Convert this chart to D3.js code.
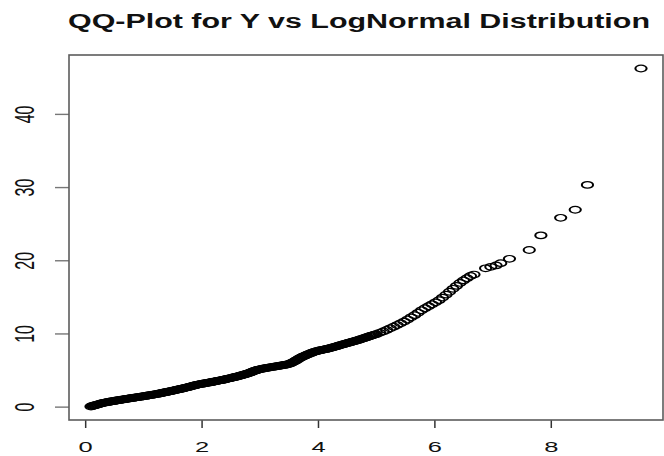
<!DOCTYPE html>
<html>
<head>
<meta charset="utf-8">
<script src="https://cdn.jsdelivr.net/npm/d3@7"></script>
<style>
  html, body { margin: 0; padding: 0; background: #fff; }
  svg { display: block; }
</style>
</head>
<body>
<svg id="chart" width="664" height="456"></svg>
<script>
// Theoretical LogNormal quantiles (x) and sorted sample of Y (y)
const theoretical = [
  0.10, 0.12, 0.14, 0.16, 0.18, 0.20, 0.22, 0.24, 0.26, 0.28, 0.30, 0.32, 0.34, 0.36, 0.38, 0.40,
  0.42, 0.44, 0.46, 0.48, 0.50, 0.52, 0.54, 0.56, 0.58, 0.60, 0.62, 0.64, 0.66, 0.68, 0.70, 0.72,
  0.74, 0.76, 0.78, 0.80, 0.82, 0.84, 0.86, 0.88, 0.90, 0.92, 0.94, 0.96, 0.98, 1.00, 1.02, 1.04,
  1.06, 1.08, 1.10, 1.12, 1.14, 1.16, 1.18, 1.20, 1.22, 1.24, 1.26, 1.28, 1.30, 1.32, 1.34, 1.36,
  1.38, 1.40, 1.42, 1.44, 1.46, 1.48, 1.50, 1.52, 1.54, 1.56, 1.58, 1.60, 1.62, 1.64, 1.66, 1.68,
  1.70, 1.72, 1.74, 1.76, 1.78, 1.80, 1.82, 1.84, 1.86, 1.88, 1.90, 1.92, 1.94, 1.96, 1.98, 2.00,
  2.02, 2.04, 2.06, 2.08, 2.10, 2.12, 2.14, 2.16, 2.18, 2.20, 2.22, 2.24, 2.26, 2.28, 2.30, 2.32,
  2.34, 2.36, 2.38, 2.40, 2.42, 2.44, 2.46, 2.48, 2.50, 2.52, 2.54, 2.56, 2.58, 2.60, 2.62, 2.64,
  2.66, 2.68, 2.70, 2.72, 2.74, 2.76, 2.78, 2.80, 2.82, 2.84, 2.86, 2.88, 2.90, 2.92, 2.94, 2.96,
  2.98, 3.00,
  3.025, 3.05, 3.075, 3.10, 3.125, 3.15, 3.175, 3.20, 3.225, 3.25, 3.275, 3.30, 3.325, 3.35, 3.375, 3.40,
  3.425, 3.45, 3.475, 3.50, 3.525, 3.55, 3.575, 3.60, 3.625, 3.65, 3.675, 3.70, 3.725, 3.75, 3.775, 3.80,
  3.825, 3.85, 3.875, 3.90, 3.925, 3.95, 3.975, 4.00, 4.025, 4.05, 4.075, 4.10, 4.125, 4.15, 4.175, 4.20,
  4.225, 4.25, 4.275, 4.30, 4.325, 4.35, 4.375, 4.40, 4.425, 4.45, 4.475, 4.50, 4.525, 4.55, 4.575, 4.60,
  4.625, 4.65, 4.675, 4.70, 4.725, 4.75, 4.775, 4.80, 4.825, 4.85, 4.875, 4.90, 4.925, 4.95, 4.975, 5.00,
  5.06, 5.12, 5.18, 5.24, 5.30, 5.36, 5.42, 5.48, 5.54, 5.60, 5.66, 5.72, 5.78, 5.84,
  5.90, 5.96, 6.02, 6.08, 6.14, 6.20, 6.26, 6.32, 6.38, 6.44, 6.50, 6.56, 6.62, 6.68,
  6.88, 6.97, 7.06, 7.14, 7.29, 7.63, 7.83, 8.17, 8.42, 8.63, 9.55
];
const sample = [
  0.02, 0.07, 0.12, 0.17, 0.21, 0.25, 0.30, 0.35, 0.40, 0.45, 0.49, 0.52, 0.55, 0.58, 0.62, 0.65,
  0.67, 0.70, 0.73, 0.75, 0.78, 0.81, 0.84, 0.86, 0.89, 0.92, 0.94, 0.97, 0.99, 1.02, 1.04, 1.07,
  1.09, 1.12, 1.15, 1.17, 1.19, 1.22, 1.24, 1.27, 1.29, 1.31, 1.34, 1.36, 1.39, 1.41, 1.44, 1.47,
  1.50, 1.52, 1.55, 1.58, 1.60, 1.63, 1.65, 1.68, 1.71, 1.74, 1.77, 1.80, 1.83, 1.86, 1.90, 1.93,
  1.97, 2.00, 2.03, 2.06, 2.10, 2.13, 2.17, 2.20, 2.24, 2.28, 2.31, 2.35, 2.39, 2.42, 2.46, 2.49,
  2.53, 2.57, 2.61, 2.65, 2.69, 2.73, 2.77, 2.82, 2.86, 2.90, 2.94, 2.98, 3.02, 3.05, 3.08, 3.11,
  3.14, 3.17, 3.19, 3.22, 3.25, 3.28, 3.31, 3.34, 3.37, 3.40, 3.43, 3.46, 3.50, 3.53, 3.56, 3.59,
  3.62, 3.65, 3.69, 3.72, 3.76, 3.80, 3.83, 3.87, 3.90, 3.94, 3.98, 4.02, 4.06, 4.10, 4.14, 4.18,
  4.22, 4.27, 4.31, 4.36, 4.40, 4.45, 4.50, 4.55, 4.61, 4.67, 4.73, 4.80, 4.86, 4.92, 4.97, 5.02,
  5.06, 5.10,
  5.14, 5.18, 5.22, 5.26, 5.30, 5.33, 5.37, 5.40, 5.43, 5.46, 5.50, 5.53, 5.56, 5.60, 5.63, 5.66,
  5.70, 5.74, 5.78, 5.82, 5.90, 5.98, 6.09, 6.20, 6.32, 6.45, 6.57, 6.68, 6.78, 6.87, 6.96, 7.05,
  7.14, 7.22, 7.30, 7.38, 7.45, 7.52, 7.57, 7.62, 7.67, 7.72, 7.76, 7.80, 7.85, 7.89, 7.93, 7.98,
  8.03, 8.09, 8.14, 8.20, 8.26, 8.32, 8.38, 8.44, 8.50, 8.55, 8.61, 8.66, 8.72, 8.78, 8.83, 8.89,
  8.95, 9.01, 9.06, 9.12, 9.19, 9.26, 9.32, 9.39, 9.45, 9.52, 9.58, 9.65, 9.71, 9.78, 9.84, 9.90,
  10.08, 10.28, 10.48, 10.70, 10.92, 11.15, 11.38, 11.62, 11.90, 12.20, 12.50, 12.82, 13.16, 13.45,
  13.72, 13.98, 14.25, 14.55, 14.90, 15.30, 15.70, 16.10, 16.50, 16.90, 17.25, 17.55, 17.85, 18.05,
  18.9, 19.1, 19.3, 19.6, 20.2, 21.4, 23.4, 25.8, 26.9, 30.3, 46.2
];
const xTicks = [0, 2, 4, 6, 8];
const yTicks = [0, 10, 20, 30, 40];
const titleText = "QQ-Plot for Y vs LogNormal Distribution";

const points = theoretical.map((x, i) => ({ x, y: sample[i] }));

const svg = d3.select("#chart");
const plot = { left: 69, right: 663, top: 55, bottom: 420 };
const stretch = 1.7; // horizontal aspect of glyphs and markers

// R-style axis ranges: data extent padded by 4% each side
function padded(vals) {
  const [lo, hi] = d3.extent(vals);
  const p = (hi - lo) * 0.04;
  return [lo - p, hi + p];
}
const x = d3.scaleLinear().domain(padded(theoretical)).range([plot.left, plot.right]);
const y = d3.scaleLinear().domain(padded(sample)).range([plot.bottom, plot.top]);

// Title
svg.append("text")
  .attr("x", 68).attr("y", 28)
  .attr("font-family", "Liberation Sans, Arial, sans-serif")
  .attr("font-weight", "bold")
  .attr("font-size", 20)
  .attr("fill", "#111")
  .attr("textLength", 582)
  .attr("lengthAdjust", "spacingAndGlyphs")
  .text(titleText);

// Points (open circles)
svg.append("g")
  .selectAll("circle")
  .data(points)
  .join("circle")
  .attr("transform", d => `translate(${x(d.x)},${y(d.y)}) scale(${stretch},1)`)
  .attr("r", 3.3)
  .attr("fill", "none")
  .attr("stroke", "#000")
  .attr("stroke-width", 1.2);

// Bottom axis
const xAxis = d3.axisBottom(x).tickValues(xTicks).tickSize(8).tickFormat(d3.format("d"));
const gx = svg.append("g").attr("transform", `translate(0,${plot.bottom})`).call(xAxis);
gx.select(".domain").remove();
gx.selectAll(".tick line").attr("stroke", "#333").attr("stroke-width", 1.5);
gx.selectAll(".tick text")
  .attr("y", 0).attr("dy", 0)
  .attr("transform", `translate(0,32) scale(${stretch},1)`)
  .attr("font-family", "Liberation Sans, Arial, sans-serif")
  .attr("font-size", 15)
  .attr("fill", "#111");

// Left axis with rotated labels
const yAxis = d3.axisLeft(y).tickValues(yTicks).tickSize(14).tickFormat(d3.format("d"));
const gy = svg.append("g").attr("transform", `translate(${plot.left},0)`).call(yAxis);
gy.select(".domain").remove();
gy.selectAll(".tick line").attr("stroke", "#777").attr("stroke-width", 1.4);
gy.selectAll(".tick text")
  .attr("x", 0).attr("dy", 0)
  .attr("text-anchor", "middle")
  .attr("transform", `translate(-45,0) scale(${stretch},1) rotate(-90) translate(0,5.7)`)
  .attr("font-family", "Liberation Sans, Arial, sans-serif")
  .attr("font-size", 16)
  .attr("fill", "#111");

// Plot frame
svg.append("rect")
  .attr("x", plot.left).attr("y", plot.top)
  .attr("width", plot.right - plot.left).attr("height", plot.bottom - plot.top)
  .attr("fill", "none")
  .attr("stroke", "#5c5c5c")
  .attr("stroke-width", 1.6);
</script>
</body>
</html>
